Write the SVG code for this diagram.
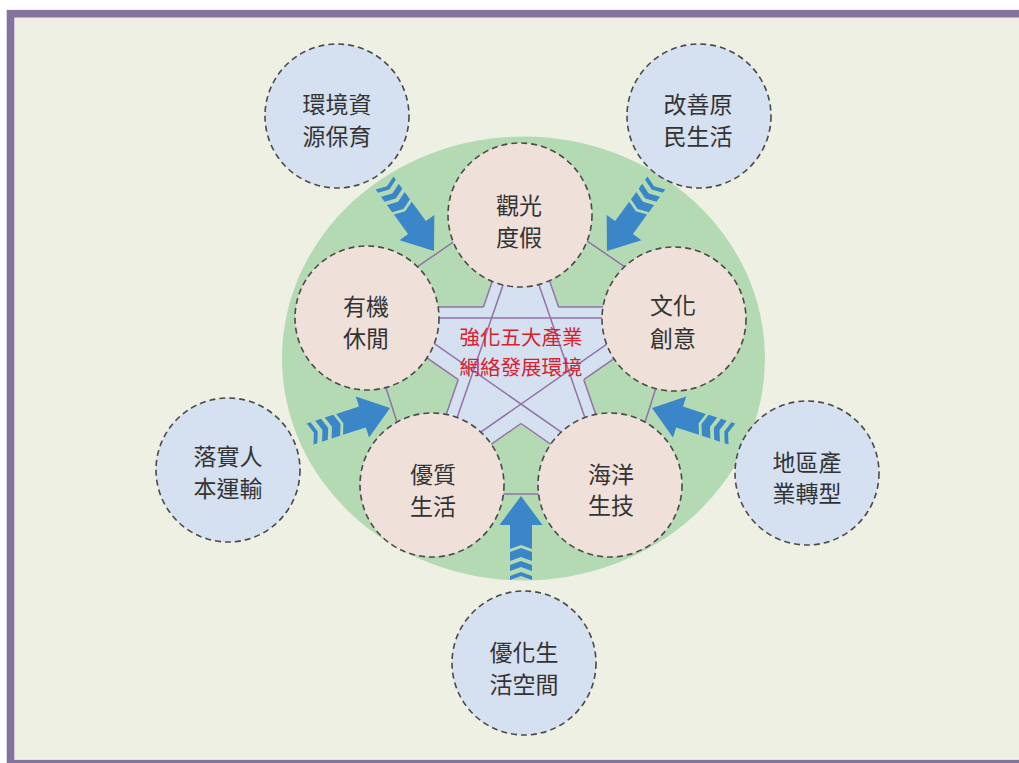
<svg xmlns="http://www.w3.org/2000/svg" xmlns:xlink="http://www.w3.org/1999/xlink" width="1019" height="763" viewBox="0 0 1019 763">
<style>
.pink{fill:#efe0da;stroke:#4a4a4a;stroke-width:1.6;stroke-dasharray:6 4}
.blue{fill:#d5e0f0;stroke:#4a4a4a;stroke-width:1.6;stroke-dasharray:6 4}
.lbl{font-family:"Noto Sans CJK TC","Noto Sans CJK SC",sans-serif;font-size:23px;fill:#333;text-anchor:middle}
.ctr{font-family:"Noto Sans CJK TC","Noto Sans CJK SC",sans-serif;font-size:20.5px;fill:#d8202f;text-anchor:middle}
.pl{stroke:#9373a7;stroke-width:1.5;fill:none}
.arw{fill:#3a86c8}
</style>
<defs>
<g id="arrow" class="arw">
<path d="M0,0 L21.5,29 L11,29 L11,53 L0,49 L-11,53 L-11,29 L-21.5,29 Z"/>
<path d="M-11,56 L0,52 L11,56 L11,65 L0,61 L-11,65 Z"/>
<path d="M-11,69 L0,65 L11,69 L11,75 L0,71 L-11,75 Z"/>
<path d="M-11,80 L0,76 L11,80 L11,84 L0,80 L-11,84 Z"/>
</g>
</defs>
<rect x="0" y="0" width="1019" height="763" fill="#ffffff"/>
<rect x="10.5" y="13.7" width="1100" height="750" fill="#eff0e4" stroke="#84739f" stroke-width="7.6"/>
<ellipse id="hub" cx="523.5" cy="358.5" rx="241.5" ry="222" fill="#b3dab2"/>
<g id="connectors">
<polygon points="504.8,245 483.4,307 400,307 395,335.6 458.2,379.7 430.5,460 470,459 521,423.5 572,459 611.5,460 583.8,379.7 647,335.6 642,307 558.6,307 537.2,245" fill="#d5e0f0"/>
<path class="pl" d="M390,318 H652 M518.6,240 L440.7,465 M523.4,240 L601.3,465 M385,309.1 L595,455.7 M657,309.1 L447,455.7"/>
<path class="pl" d="M390,307 H483.4 M558.6,307 H652 M504.8,245 L483.4,307 M458.2,379.7 L430.5,460 M537.2,245 L558.6,307 M583.8,379.7 L611.5,460 M395,335.6 L458.2,379.7 M521,423.5 L600,478.7 M647,335.6 L583.8,379.7 M521,423.5 L442,478.7"/>
<path class="pl" d="M380,292.4 L490,216.9 M662,292.4 L552,216.9 M432,494 H610 M370.7,340 L412.3,470 M671.3,340 L629.7,470"/>
<use xlink:href="#arrow" href="#arrow" transform="translate(434,251) rotate(144)"/>
<use xlink:href="#arrow" href="#arrow" transform="translate(607,251) rotate(-144)"/>
<use xlink:href="#arrow" href="#arrow" transform="translate(390,408) rotate(72)"/>
<use xlink:href="#arrow" href="#arrow" transform="translate(652,408) rotate(-72)"/>
<use xlink:href="#arrow" href="#arrow" transform="translate(521,496)"/>
</g>
<g id="center-label">
<text class="ctr" x="521" y="345">強化五大產業</text>
<text class="ctr" x="521" y="375">網絡發展環境</text>
</g>
<g id="n-guanguang"><circle class="pink" cx="520" cy="215" r="72"/><text class="lbl" x="519" y="214">觀光</text><text class="lbl" x="519" y="246">度假</text></g>
<g id="n-youji"><circle class="pink" cx="367" cy="318" r="72"/><text class="lbl" x="366" y="315">有機</text><text class="lbl" x="366" y="347">休閒</text></g>
<g id="n-wenhua"><circle class="pink" cx="674" cy="319" r="72"/><text class="lbl" x="673" y="314">文化</text><text class="lbl" x="673" y="347">創意</text></g>
<g id="n-youzhi"><circle class="pink" cx="432" cy="485" r="72"/><text class="lbl" x="433" y="483">優質</text><text class="lbl" x="433" y="515">生活</text></g>
<g id="n-haiyang"><circle class="pink" cx="610" cy="485" r="72"/><text class="lbl" x="611" y="483">海洋</text><text class="lbl" x="611" y="514">生技</text></g>
<g id="n-huanjing"><circle class="blue" cx="337" cy="116" r="72"/><text class="lbl" x="337" y="113">環境資</text><text class="lbl" x="337" y="145">源保育</text></g>
<g id="n-gaishan"><circle class="blue" cx="699" cy="116" r="72"/><text class="lbl" x="698" y="113">改善原</text><text class="lbl" x="698" y="145">民生活</text></g>
<g id="n-luoshi"><circle class="blue" cx="228" cy="470" r="72"/><text class="lbl" x="228" y="465">落實人</text><text class="lbl" x="228" y="497">本運輸</text></g>
<g id="n-diqu"><circle class="blue" cx="807" cy="473" r="72"/><text class="lbl" x="807" y="471">地區產</text><text class="lbl" x="807" y="502">業轉型</text></g>
<g id="n-youhua"><circle class="blue" cx="524" cy="663" r="72"/><text class="lbl" x="524" y="661">優化生</text><text class="lbl" x="524" y="693">活空間</text></g>
</svg>
